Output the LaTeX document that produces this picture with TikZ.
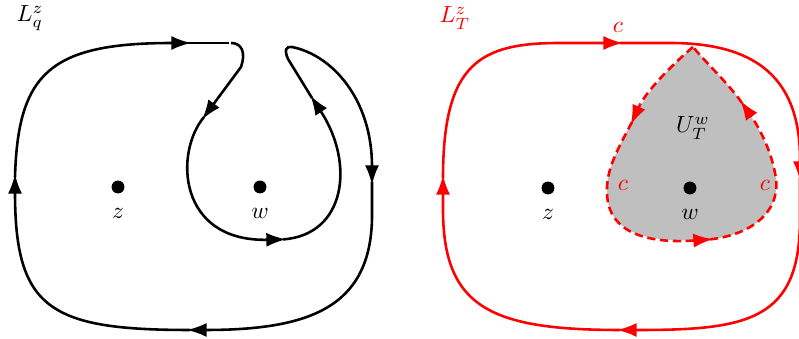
\documentclass[tikz,border=0pt]{standalone}
\usepackage{amsmath}
\usetikzlibrary{positioning,arrows.meta}

\begin{document}
\begin{tikzpicture}[x=0.3cm, y=0.3cm,
  curveline/.style={line width=1.1pt},
  toarrow/.style={-{Latex[length=8.5pt,width=6pt]}, shorten >=-1.4pt},
  border/.style={red, line width=1.1pt, dash pattern=on 3.5pt off 2pt},
  pointdot/.style={circle, fill, inner sep=0pt, minimum size=5.5pt}]
  \useasboundingbox (0,0) rectangle (39.95,16.95);

  % Region U around w
  \fill[black!25] (34.65,14.6) .. controls (33.6,13.7) and (32.3,12.4) .. (31.6,10.85)
    .. controls (30.9,9.5) and (30.3,8.5) .. (30.35,7.3)
    .. controls (30.4,5.0) and (33,4.8) .. (35.5,4.98)
    .. controls (37.5,5.2) and (39,6.3) .. (38.8,8.0)
    .. controls (38.6,9.5) and (37.8,10.8) .. (37.1,11.8)
    .. controls (36.4,12.8) and (35.4,13.7) .. (34.65,14.6) -- cycle;
  \draw[border, toarrow] (34.65,14.6) .. controls (33.6,13.7) and (32.3,12.4) .. (31.6,10.85);
  \draw[border, toarrow] (31.6,10.85) .. controls (30.9,9.5) and (30.3,8.5) .. (30.35,7.3)
    .. controls (30.4,5.0) and (33,4.8) .. (35.5,4.98);
  \draw[border, toarrow] (35.5,4.98) .. controls (37.5,5.2) and (39,6.3) .. (38.8,8.0)
    .. controls (38.6,9.5) and (37.8,10.8) .. (37.1,11.8);
  \draw[border] (37.1,11.8) .. controls (36.4,12.8) and (35.4,13.7) .. (34.65,14.6);

  % Loop L_T
  \draw[curveline, red, toarrow] (22.15,8.05) .. controls (22.15,13.8) and (24,14.8) .. (28,14.8) -- (31,14.8);
  \draw[curveline, red, toarrow] (31,14.8) -- (33.5,14.8) .. controls (37.5,14.8) and (40,13.3) .. (40,9) -- (40,8.05);
  \draw[curveline, red, toarrow] (40,8.05) -- (40,6) .. controls (40,1.0) and (37.5,0.45) .. (32,0.45) -- (31,0.45);
  \draw[curveline, red, toarrow] (31,0.45) .. controls (24.5,0.45) and (22.15,1.6) .. (22.15,6.5) -- (22.15,8.05);

  % Loop L_q
  \draw[curveline, toarrow] (0.75,8.1) .. controls (0.9,13.3) and (2.5,14.8) .. (9.4,14.8);
  \draw[curveline] (9.4,14.8) -- (11.45,14.8);
  \draw[curveline, toarrow] (11.55,14.8) .. controls (12.1,14.8) and (12.3,14.3) .. (12.05,13.6) -- (10.2,11.1);
  \draw[curveline, toarrow] (10.2,11.1) .. controls (8.7,9.3) and (8.9,4.85) .. (14.15,4.98);
  \draw[curveline, toarrow] (14.15,4.98) .. controls (17.3,5.2) and (17.75,8.8) .. (15.6,12.05);
  \draw[curveline, toarrow] (15.6,12.05) -- (14.4,14.0) .. controls (14.2,14.45) and (14.3,14.65) .. (14.6,14.6)
    .. controls (16.6,14.2) and (18.6,12.0) .. (18.6,7.85);
  \draw[curveline, toarrow] (18.6,7.85) -- (18.6,6) .. controls (18.5,1.6) and (15.5,0.45) .. (9.5,0.45);
  \draw[curveline, toarrow] (9.5,0.45) .. controls (2.5,0.45) and (0.75,1.5) .. (0.75,8.1);

  % Points
  \node[pointdot] (zL) at (5.9,7.6) {};
  \node[pointdot] (wL) at (13.0,7.6) {};
  \node[pointdot] (zR) at (27.4,7.55) {};
  \node[pointdot] (wR) at (34.5,7.55) {};
  \node[below=1mm of zL] (zLlab) {$z$};
  \node[below=1mm of wL] (wLlab) {$w$};
  \node[below=1mm of zR] (zRlab) {$z$};
  \node[below=1mm of wR] (wRlab) {$w$};

  % Labels
  \node (Lq) at (1.5,16.05) {$L_q^z$};
  \node[red] (LT) at (22.75,16.05) {$L_T^z$};
  \node[red] (ctop) at (30.9,15.6) {$c$};
  \node (UT) at (34.65,10.55) {$U_T^w$};
  \node[red] (cleft) at (31.15,7.7) {$c$};
  \node[red] (cright) at (38.25,7.7) {$c$};
\end{tikzpicture}
\end{document}
